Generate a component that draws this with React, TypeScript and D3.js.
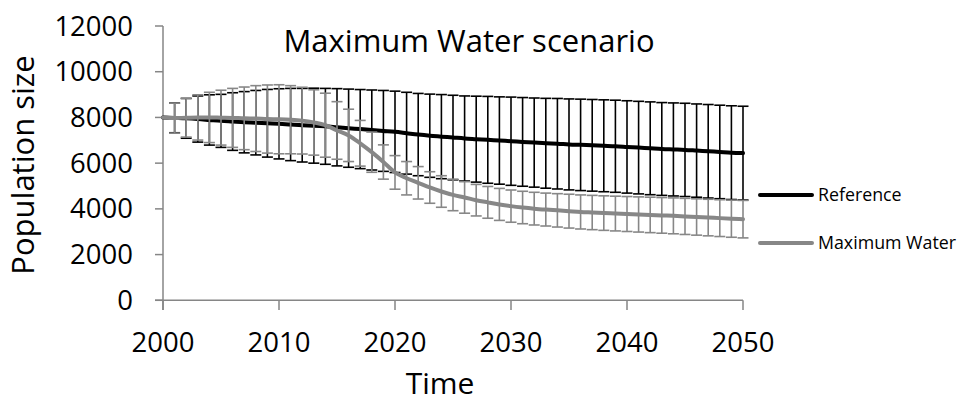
import React from 'react';
import * as d3 from 'd3';

const years = d3.range(2000, 2051);

const referenceMean = [
  8000, 7980, 7960, 7930, 7890, 7850, 7820, 7790, 7770, 7745,
  7720, 7690, 7660, 7640, 7610, 7570, 7530, 7490, 7450, 7410,
  7370, 7310, 7250, 7200, 7160, 7120, 7080, 7050, 7020, 6990,
  6960, 6930, 6900, 6870, 6850, 6820, 6800, 6780, 6760, 6740,
  6710, 6680, 6650, 6620, 6600, 6580, 6550, 6520, 6490, 6460, 6440,
];
const referenceErr = [
  0, 650, 870, 1010, 1100, 1160, 1260, 1340, 1410, 1480,
  1535, 1580, 1610, 1640, 1660, 1690, 1710, 1730, 1750, 1770,
  1780, 1790, 1800, 1820, 1840, 1850, 1860, 1880, 1900, 1910,
  1930, 1940, 1950, 1965, 1980, 1990, 2000, 2005, 2010, 2015,
  2020, 2025, 2030, 2030, 2035, 2040, 2040, 2045, 2045, 2050, 2050,
];
const waterMean = [
  8000, 7970, 7990, 8000, 8000, 7990, 7980, 7960, 7950, 7930,
  7920, 7900, 7860, 7780, 7660, 7430, 7215, 6870, 6480, 6050,
  5595, 5340, 5140, 4935, 4760, 4610, 4500, 4380, 4285, 4195,
  4120, 4060, 4010, 3970, 3935, 3900, 3865, 3840, 3815, 3795,
  3775, 3755, 3735, 3715, 3695, 3670, 3645, 3620, 3595, 3570, 3550,
];
const waterErr = [
  0, 655, 850, 990, 1100, 1200, 1290, 1370, 1440, 1490,
  1510, 1490, 1460, 1430, 1400, 1260, 1145, 1000, 880, 750,
  735, 730, 710, 690, 690, 690, 690, 690, 695, 700,
  705, 710, 715, 720, 730, 740, 745, 750, 755, 760,
  765, 770, 775, 780, 785, 790, 795, 800, 805, 812, 820,
];

const yTicks = [0, 2000, 4000, 6000, 8000, 10000, 12000];
const xTicks = [2000, 2010, 2020, 2030, 2040, 2050];

const series = [
  { name: 'Reference', mean: referenceMean, err: referenceErr, color: '#000000' },
  { name: 'Maximum Water', mean: waterMean, err: waterErr, color: '#878787' },
];

const font = '"Open Sans", sans-serif';
const axisColor = '#868686';

export default function App() {
  const x = d3.scaleLinear().domain([2000, 2050]).range([163, 743]);
  const y = d3.scaleLinear().domain([0, 12000]).range([300.3, 26]);

  const line = d3.line<number>()
    .x((_, i) => x(years[i]))
    .y(d => y(d))
    .curve(d3.curveMonotoneX);

  return (
    <svg width={966} height={407} style={{ position: 'absolute', left: 0, top: 0 }}>
      <rect width={966} height={407} fill="#fff" />

      <text x={469} y={52} textAnchor="middle" fontFamily={font} fontSize={31} fill="#000">
        Maximum Water scenario
      </text>

      {/* axes */}
      <g stroke={axisColor} strokeWidth={1.5}>
        <line x1={163} x2={163} y1={y(12000)} y2={310} />
        <line x1={155} x2={743} y1={y(0)} y2={y(0)} />
        {yTicks.map(t => (
          <line key={t} x1={155} x2={163} y1={y(t)} y2={y(t)} />
        ))}
        {xTicks.map(t => (
          <line key={t} x1={x(t)} x2={x(t)} y1={y(0)} y2={310} />
        ))}
      </g>
      {yTicks.map(t => (
        <text key={t} x={133} y={y(t)} dy="0.35em" textAnchor="end" fontFamily={font} fontSize={27.5} fill="#000">
          {t}
        </text>
      ))}
      {xTicks.map(t => (
        <text key={t} x={x(t)} y={352} textAnchor="middle" fontFamily={font} fontSize={27.5} fill="#000">
          {t}
        </text>
      ))}
      <text x={440} y={394} textAnchor="middle" fontFamily={font} fontSize={30} fill="#000">Time</text>
      <text transform="translate(34,165) rotate(-90)" textAnchor="middle" fontFamily={font} fontSize={31} fill="#000">
        Population size
      </text>

      {/* series: error bars then line */}
      {series.map(s => (
        <g key={s.name}>
          <g stroke={s.color} strokeWidth={1.6}>
            {years.map((yr, i) => s.err[i] > 0 ? (
              <g key={yr}>
                <line x1={x(yr)} x2={x(yr)} y1={y(s.mean[i] - s.err[i])} y2={y(s.mean[i] + s.err[i])} />
                <line x1={x(yr) - 5.5} x2={x(yr) + 5.5} y1={y(s.mean[i] + s.err[i])} y2={y(s.mean[i] + s.err[i])} />
                <line x1={x(yr) - 5.5} x2={x(yr) + 5.5} y1={y(s.mean[i] - s.err[i])} y2={y(s.mean[i] - s.err[i])} />
              </g>
            ) : null)}
          </g>
          <path d={line(s.mean) || ''} fill="none" stroke={s.color} strokeWidth={4} strokeLinecap="round" />
        </g>
      ))}

      {/* legend */}
      {series.map((s, i) => (
        <g key={s.name} transform={`translate(0,${195 + i * 48})`}>
          <line x1={760} x2={812} y1={0} y2={0} stroke={s.color} strokeWidth={4} strokeLinecap="round" />
          <text x={818} y={0} dy="0.35em" fontFamily={font} fontSize={17.8} fill="#000">{s.name}</text>
        </g>
      ))}
    </svg>
  );
}
